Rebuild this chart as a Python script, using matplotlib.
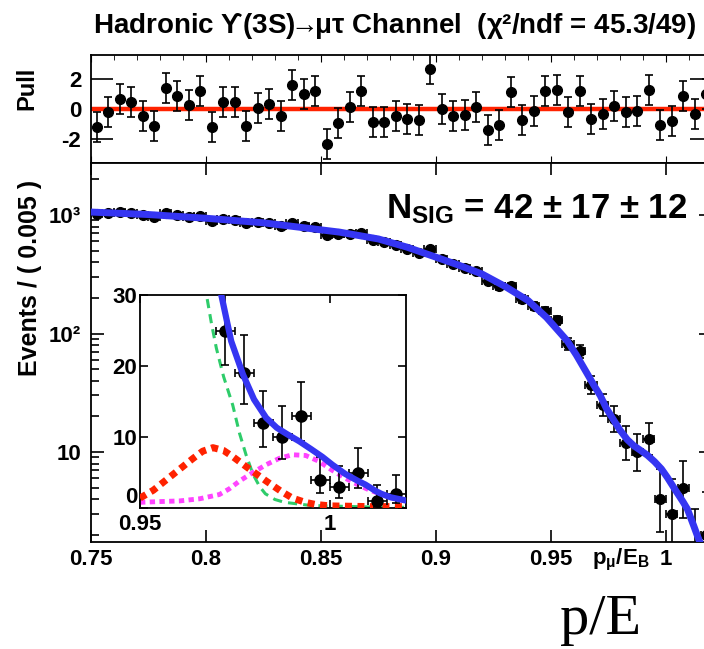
import numpy as np
import matplotlib
matplotlib.use("Agg")
import matplotlib.pyplot as plt
from matplotlib.patches import Rectangle
from matplotlib.ticker import FixedLocator, NullLocator, LogLocator, NullFormatter

plt.rcParams["font.family"] = ["Liberation Sans", "DejaVu Sans"]
plt.rcParams["font.weight"] = "bold"
plt.rcParams["mathtext.default"] = "regular"

# ----- binned data, 0.75 .. 1.02 in steps of 0.005 -----
BIN_LO = 0.75
BIN_W = 0.005
counts = [1015, 1038, 1057, 1039, 999, 966, 1032, 1001, 969, 985,
          895, 929, 913, 851, 871, 859, 814, 851, 811, 794,
          677, 695, 697, 699, 620, 587, 561, 520, 482, 517,
          425, 384, 354, 336, 277, 250, 253, 195, 172, 154,
          129, 82, 71, 37, 25, 19, 12, 10, 13, 4,
          3, 5, 1, 2]
err_lo = [32, 32, 33, 32, 32, 31, 32, 32, 31, 31,
          30, 30, 30, 29, 30, 29, 29, 29, 28, 28,
          26, 26, 26, 26, 25, 24, 24, 23, 22, 23,
          21, 20, 19, 18, 17, 16, 16, 14, 13, 12,
          11, 9, 8.4, 6, 4.9, 4.3, 3.4, 3.1, 3.6, 1.9,
          1.6, 2.2, 0.8, 1.3]
err_hi = [32, 33, 33, 33, 32, 32, 33, 32, 32, 32,
          30, 31, 31, 30, 30, 30, 29, 30, 29, 29,
          27, 27, 27, 27, 25, 25, 24, 23, 23, 23,
          21, 20, 19, 19, 17, 16, 16, 15, 14, 13,
          12, 10, 9.4, 7, 6.0, 5.4, 4.5, 4.3, 4.7, 3.2,
          2.9, 3.4, 2.3, 2.6]
pulls = [-1.22, -0.22, 0.67, 0.44, -0.49, -1.16, 1.38, 0.84, 0.27, 1.22,
         -1.22, 0.44, 0.44, -1.11, 0.1, 0.33, -0.44, 1.62, 1.0, 1.18,
         -2.33, -0.93, 0.11, 1.22, -0.84, -0.89, -0.44, -0.67, -0.71, 2.67,
         0.0, -0.44, -0.4, 0.15, -1.38, -1.07, 1.16, -0.73, -0.11, 1.22,
         1.29, -0.22, 1.22, -0.67, -0.33, 0.22, -0.22, -0.11, 1.29, -1.07,
         -0.78, 0.89, -0.33, 1.0]

# ----- total fit curve -----
fit_x = [0.750, 0.775, 0.800, 0.825, 0.850, 0.858, 0.875, 0.8875, 0.900, 0.910,
         0.920, 0.930, 0.940, 0.948, 0.957, 0.961, 0.9657, 0.9685, 0.9714, 0.9740,
         0.9771, 0.9800, 0.9832, 0.9860, 0.9887, 0.9919, 0.9950, 0.9980, 1.0006, 1.0040,
         1.0074, 1.0093, 1.0120, 1.0135, 1.0160, 1.0196]
fit_y = [1060, 1010, 940, 860, 750, 718, 628, 535, 441, 377,
         318, 250, 190, 137, 87, 66, 46, 37, 30, 23.5,
         18.8, 15.3, 12.7, 11.3, 10.4, 9.4, 8.3, 7.2, 6.1, 4.8,
         3.8, 3.3, 2.4, 2.0, 1.5, 1.1]

# ----- components (inset only) -----
bkg_x = [0.9640, 0.9660, 0.9675, 0.9688, 0.9701, 0.9720, 0.9744, 0.9762, 0.9779,
         0.9797, 0.9815, 0.9830, 0.9855, 0.9880, 0.9950, 1.0100, 1.0200]
bkg_y = [40, 34, 30, 26, 22.5, 18.5, 14.5, 10.5, 7.5,
         4.8, 3.0, 2.0, 1.2, 0.8, 0.35, 0.15, 0.1]
peak_x = [0.950, 0.9535, 0.957, 0.9605, 0.964, 0.9665, 0.9692, 0.972, 0.9745,
          0.978, 0.9832, 0.987, 0.9901, 0.9935, 0.9962, 1.000, 1.010, 1.020]
peak_y = [1.4, 2.5, 4.0, 5.5, 7.0, 8.0, 8.5, 8.1, 7.2,
          5.8, 3.8, 2.4, 1.4, 0.8, 0.5, 0.3, 0.2, 0.2]
sig_x = [0.950, 0.955, 0.9605, 0.9657, 0.9709, 0.9735, 0.9762, 0.9797, 0.9832, 0.9867,
         0.9901, 0.9936, 0.997, 1.0006, 1.004, 1.0076, 1.0105, 1.0137, 1.0165, 1.0196]
sig_y = [0.8, 0.9, 1.0, 1.3, 1.9, 2.7, 3.8, 5.0, 6.1, 7.0,
         7.5, 7.4, 6.6, 5.3, 4.2, 3.2, 2.5, 1.9, 1.4, 1.0]

x = BIN_LO + BIN_W * (np.arange(len(counts)) + 0.5)
xerr = np.full(len(counts), BIN_W / 2)
yerr = np.array([err_lo, err_hi])

W, H = 704, 649
fig = plt.figure(figsize=(W / 100, H / 100), dpi=100)


def box(l, r, t, b):
    return [l / W, 1 - b / H, (r - l) / W, (b - t) / H]


BLUE = "#3535f2"
XMIN, XMAX = 0.75, 1.02
TICKFS = 16

# ---------------- pull panel ----------------
axp = fig.add_axes(box(91, 712, 55, 163))
axp.axhline(0, color="#ff2200", lw=3.2, zorder=2)
axp.errorbar(x, pulls, yerr=1.0, fmt="o", color="black", ms=7, elinewidth=1.2,
             capsize=2.8, capthick=1.2, zorder=3)
axp.set_xlim(XMIN, XMAX)
axp.set_ylim(-3.6, 3.6)
axp.set_yticks([-2, 0, 2])
axp.set_yticklabels(["-2", "0", "2"])
axp.xaxis.set_major_locator(FixedLocator([0.75, 0.8, 0.85, 0.9, 0.95, 1.0]))
axp.xaxis.set_minor_locator(FixedLocator(np.arange(0.76, 1.02, 0.01)))
axp.tick_params(axis="x", which="both", direction="in", top=True, bottom=True,
                labelbottom=False)
axp.tick_params(axis="x", which="major", length=5)
axp.tick_params(axis="x", which="minor", length=3.5, bottom=False)
axp.tick_params(axis="y", which="major", direction="in", left=True, right=True,
                length=16, width=1.2, labelsize=TICKFS, pad=7)
for s in axp.spines.values():
    s.set_linewidth(1.3)

# ---------------- main panel ----------------
ax = fig.add_axes(box(91, 712, 163, 542))
ax.errorbar(x, counts, xerr=xerr, yerr=yerr, fmt="o", color="black", ms=7,
            elinewidth=1.2, capsize=2.8, capthick=1.2, zorder=2)
ax.plot(fit_x, fit_y, color=BLUE, lw=5, zorder=3)
ax.set_yscale("log")
ax.set_xlim(XMIN, XMAX)
ax.set_ylim(1.74, 2750)
ax.yaxis.set_major_locator(FixedLocator([10, 100, 1000]))
ax.set_yticklabels(["10", "10²", "10³"])
ax.yaxis.set_minor_locator(LogLocator(base=10, subs=np.arange(2, 10)))
ax.yaxis.set_minor_formatter(NullFormatter())
ax.xaxis.set_major_locator(FixedLocator([0.75, 0.8, 0.85, 0.9, 0.95, 1.0]))
ax.set_xticklabels(["0.75", "0.8", "0.85", "0.9", "0.95", "1"])
ax.xaxis.set_minor_locator(NullLocator())
ax.tick_params(axis="both", which="both", direction="in", top=True, right=True,
               labelsize=TICKFS, width=1.2)
ax.tick_params(axis="y", which="major", length=9.5, pad=7)
ax.tick_params(axis="y", which="minor", length=6)
ax.tick_params(axis="x", which="major", length=8.5, pad=5)
for s in ax.spines.values():
    s.set_linewidth(1.3)

ax.text(687 / W, 1 - 218 / H, "N$_{SIG}$ = 42 ± 17 ± 12", transform=fig.transFigure,
        ha="right", va="baseline", fontsize=25)

# ---------------- inset ----------------
axi = fig.add_axes(box(140, 406, 295, 508))
axi.plot(bkg_x, bkg_y, color="#2ecc6a", lw=2.2, ls=(0, (3, 2)), zorder=1)
axi.plot(sig_x, sig_y, color="#ff44ff", lw=3.5, ls=(0, (1.1, 0.9)), zorder=2)
axi.plot(peak_x, peak_y, color="#ff2200", lw=5, ls=(0, (1, 0.8)), zorder=3)
axi.errorbar(x, counts, xerr=xerr, yerr=yerr, fmt="o", color="black", ms=8,
             elinewidth=1.2, capsize=2.8, capthick=1.2, zorder=4)
axi.plot(fit_x, fit_y, color=BLUE, lw=4.5, zorder=5)
axi.set_xlim(0.95, 1.02)
axi.set_ylim(0, 30)
axi.set_yticks([0, 10, 20, 30])
axi.set_yticklabels(["0", "10", "20", "30"])
axi.set_xticks([0.95, 1.0])
axi.set_xticklabels(["0.95", "1"])
axi.tick_params(axis="both", direction="in", top=True, right=True, length=6,
                width=1.2, labelsize=TICKFS, pad=2)
axi.tick_params(axis="x", pad=4)
# the "0" sits just above the "0.95" at the corner
axi.get_yticklabels()[0].set_verticalalignment("bottom")
for s in axi.spines.values():
    s.set_linewidth(1.3)

# ---------------- texts ----------------
fig.text(395 / W, 1 - 26 / H,
         "Hadronic ϒ(3S)$\\!\\!\\rightarrow\\!\\!$μτ Channel  (χ²/ndf = 45.3/49)",
         ha="center", va="center", fontsize=20)
fig.text(27 / W, 1 - 88 / H, "Pull", rotation=90, ha="center", va="center", fontsize=17)
fig.text(30 / W, 1 - 278 / H, "Events / ( 0.005 )", rotation=90, ha="center",
         va="center", fontsize=18)
fig.text(650 / W, 1 - 564 / H, "p$_{μ}$/E$_{B}$", ha="right", va="baseline", fontsize=16)

# lower strip of the picture is blank except for the big label
fig.patches.append(Rectangle((0, 0), 1, (H - 572) / H, transform=fig.transFigure,
                             facecolor="white", edgecolor="none", zorder=10))
fig.text(560 / W, 1 - 634 / H, "p/E", family="Liberation Serif", fontweight="normal",
         fontsize=42, ha="left", va="baseline", zorder=11)

fig.savefig("out.png", dpi=100)
